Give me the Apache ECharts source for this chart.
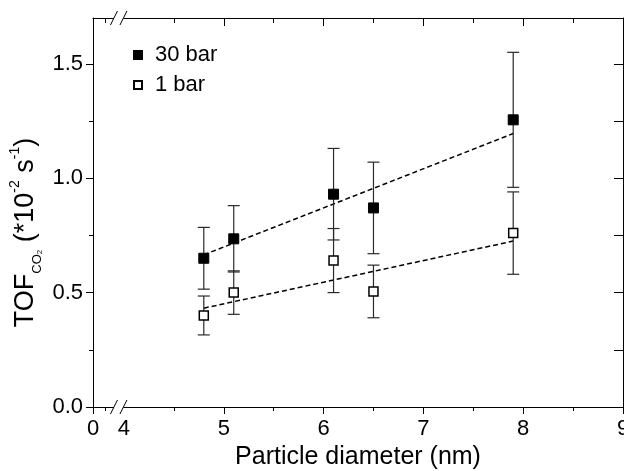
<!DOCTYPE html>
<html>
<head>
<meta charset="utf-8">
<script src="https://cdn.jsdelivr.net/npm/echarts@6/dist/echarts.min.js"></script>
<style>
  html, body { margin: 0; padding: 0; background: #fff; }
  #chart { width: 624px; height: 471px; }
</style>
</head>
<body>
<div id="chart"></div>
<script>
// particle diameter (nm)
var diameters = [4.8, 5.1, 6.1, 6.5, 7.9];
// TOF CO2 (*10^-2 s^-1) and error half-widths
var tof30 = [0.65, 0.735, 0.93, 0.87, 1.255];
var err30 = [0.135, 0.145, 0.20, 0.20, 0.295];
var tof1 = [0.40, 0.50, 0.64, 0.505, 0.76];
var err1 = [0.085, 0.095, 0.14, 0.115, 0.18];
// dashed linear fits, endpoints
var fit30 = [[4.8, 0.665], [7.9, 1.195]];
var fit1 = [[4.8, 0.432], [7.9, 0.725]];

// x axis is broken between 0 and 4; "0" sits at the axis start
var xZeroPos = 3.69;
var xBreak = [3.90, 3.995];
var xMajorTicks = [3.69, 5, 6, 7, 8, 9];
var xMinorTicks = [3.81, 4.5, 5.5, 6.5, 7.5, 8.5];
var xLabelValues = [3.69, 4, 5, 6, 7, 8, 9];
var xLabelTexts = ['0', '4', '5', '6', '7', '8', '9'];

var yMajorTicks = [0, 0.5, 1.0, 1.5];
var yMinorTicks = [0.25, 0.75, 1.25];

var FONT = '"Liberation Sans", Arial, sans-serif';

function toPoints(xs, ys, es) {
  return xs.map(function(x, i) { return es ? [x, ys[i], es[i]] : [x, ys[i]]; });
}

function errorBarItem(params, api) {
  var x = api.value(0), y = api.value(1), e = api.value(2);
  var top = api.coord([x, y + e]);
  var bot = api.coord([x, y - e]);
  var w = 6;
  var style = { stroke: '#2a2a2a', lineWidth: 1.2 };
  return {
    type: 'group',
    children: [
      { type: 'line', shape: { x1: top[0], y1: top[1], x2: bot[0], y2: bot[1] }, style: style },
      { type: 'line', shape: { x1: top[0] - w, y1: top[1], x2: top[0] + w, y2: top[1] }, style: style },
      { type: 'line', shape: { x1: bot[0] - w, y1: bot[1], x2: bot[0] + w, y2: bot[1] }, style: style }
    ]
  };
}

function baseX(position, inside, ticks, len, showLine) {
  return {
    type: 'value',
    position: position,
    min: xZeroPos,
    max: 9,
    axisLine: { show: showLine, onZero: false, lineStyle: { color: '#000', width: 1 } },
    splitLine: { show: false },
    axisTick: { show: true, inside: inside, length: len, customValues: ticks,
                lineStyle: { color: '#000', width: 1 } },
    axisLabel: { show: false }
  };
}

function baseY(position, inside, ticks, len, showLine) {
  return {
    type: 'value',
    position: position,
    min: 0,
    max: 1.7,
    axisLine: { show: showLine, onZero: false, lineStyle: { color: '#000', width: 1 } },
    splitLine: { show: false },
    axisTick: { show: true, inside: inside, length: len, customValues: ticks,
                lineStyle: { color: '#000', width: 1 } },
    axisLabel: { show: false }
  };
}

var chart = echarts.init(document.getElementById('chart'));

var xBottom = baseX('bottom', false, xMajorTicks, 7, true);
xBottom.name = 'Particle diameter (nm)';
xBottom.nameLocation = 'middle';
xBottom.nameGap = 38;
xBottom.nameTextStyle = { fontSize: 25, fontFamily: FONT, color: '#000' };
xBottom.axisLabel = {
  show: true,
  customValues: xLabelValues,
  margin: 11,
  fontSize: 22,
  fontFamily: FONT,
  color: '#000',
  formatter: function(v) {
    var i = xLabelValues.indexOf(v);
    return i >= 0 ? xLabelTexts[i] : '';
  }
};

var yLeft = baseY('left', false, yMajorTicks, 7, true);
yLeft.axisLabel = {
  show: true,
  customValues: yMajorTicks,
  margin: 10,
  fontSize: 22,
  fontFamily: FONT,
  color: '#000',
  formatter: function(v) { return v.toFixed(1); }
};

chart.setOption({
  animation: false,
  backgroundColor: '#fff',
  grid: { left: 93, right: 1, top: 18, bottom: 64, outerBoundsMode: 'none', containLabel: false },
  legend: {
    data: ['30 bar', '1 bar'],
    orient: 'vertical',
    left: 128,
    top: 39,
    icon: 'rect',
    itemWidth: 8,
    itemHeight: 8,
    itemGap: 8,
    textStyle: { fontSize: 22, fontFamily: FONT, color: '#000', padding: [0, 0, 0, 8] }
  },
  xAxis: [
    xBottom,
    baseX('bottom', false, xMinorTicks, 4, false),
    baseX('top', true, xMajorTicks, 8, true),
    baseX('top', true, xMinorTicks, 5, false)
  ],
  yAxis: [
    yLeft,
    baseY('left', false, yMinorTicks, 4, false),
    baseY('right', true, yMajorTicks, 9, true),
    baseY('right', true, yMinorTicks, 9, false)
  ],
  series: [
    {
      name: 'fit30', type: 'line', data: fit30, showSymbol: false, silent: true, z: 2,
      lineStyle: { color: '#000', width: 1.5, type: [5, 3] }
    },
    {
      name: 'fit1', type: 'line', data: fit1, showSymbol: false, silent: true, z: 2,
      lineStyle: { color: '#000', width: 1.5, type: [5, 3] }
    },
    { type: 'custom', renderItem: errorBarItem, data: toPoints(diameters, tof30, err30), z: 3 },
    { type: 'custom', renderItem: errorBarItem, data: toPoints(diameters, tof1, err1), z: 3 },
    {
      name: '30 bar', type: 'scatter', data: toPoints(diameters, tof30), z: 5,
      symbol: 'rect', symbolSize: 10,
      itemStyle: { color: '#000', borderColor: '#000', borderWidth: 1, opacity: 1 }
    },
    {
      name: '1 bar', type: 'scatter', data: toPoints(diameters, tof1), z: 5,
      symbol: 'rect', symbolSize: 9,
      itemStyle: { color: '#fff', borderColor: '#000', borderWidth: 1.5, opacity: 1 }
    }
  ]
});

// axis break marks and y-axis title
var yB = chart.convertToPixel({ yAxisIndex: 0 }, 0);
var yT = chart.convertToPixel({ yAxisIndex: 0 }, 1.7);
var bx1 = chart.convertToPixel({ xAxisIndex: 0 }, xBreak[0]);
var bx2 = chart.convertToPixel({ xAxisIndex: 0 }, xBreak[1]);
var yMid = (yB + yT) / 2;

function breakMarks(y) {
  var slash = function(cx) {
    return { type: 'line', z: 100,
      shape: { x1: cx - 3.5, y1: y + 7, x2: cx + 3.5, y2: y - 7 },
      style: { stroke: '#000', lineWidth: 1 } };
  };
  return [
    { type: 'rect', z: 99, shape: { x: bx1, y: y - 2, width: bx2 - bx1, height: 4 },
      style: { fill: '#fff' } },
    slash(bx1),
    slash(bx2)
  ];
}

chart.setOption({
  graphic: breakMarks(yB).concat(breakMarks(yT)).concat([
    {
      type: 'text',
      x: 26, y: yMid + 20,
      rotation: Math.PI / 2,
      style: {
        text: '{b|TOF}{s|CO}{ss|2}{b| (*10}{p|-2}{b| s}{p|-1}{b|)}',
        align: 'center',
        verticalAlign: 'middle',
        fill: '#000',
        rich: {
          b: { fontSize: 27, fontFamily: FONT, lineHeight: 36, verticalAlign: 'middle' },
          s: { fontSize: 13, fontFamily: FONT, lineHeight: 13, verticalAlign: 'bottom' },
          ss: { fontSize: 8, fontFamily: FONT, lineHeight: 8, verticalAlign: 'bottom' },
          p: { fontSize: 14, fontFamily: FONT, lineHeight: 28, verticalAlign: 'top' }
        }
      }
    }
  ])
});
</script>
</body>
</html>
